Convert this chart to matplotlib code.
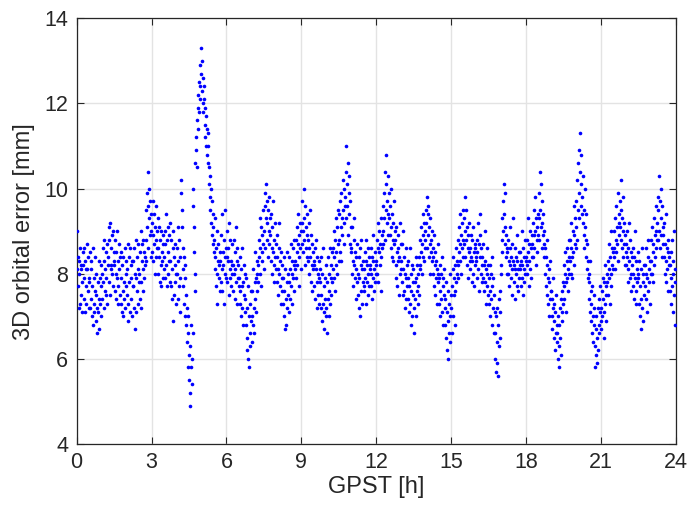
import matplotlib
matplotlib.use("Agg")
import matplotlib.pyplot as plt
import numpy as np

plt.rcParams['font.family'] = ['Liberation Sans', 'DejaVu Sans']

# 3D orbital error, in units of 0.1 mm,
# one string per quarter hour (values in time order inside each quarter)
bin_width_h = 0.25
error_bins = [
    "90 81 77 84 72 80 83 73 86 81 75 82 71 78 85",      # 0.00
    "82 74 79 86 71 83 77 81 73 87 81 76 84 72 79",
    "78 72 85 81 74 83 70 77 68 86 73 79 71 84 76",
    "75 69 80 72 66 78 71 83 74 67 79 73 82 70 77",
    "80 74 86 78 88 72 83 76 81 75 85 79 73 87 82",      # 1.00
    "84 91 78 88 75 92 82 86 81 89 80 77 90 83 85",
    "82 76 88 80 74 85 79 90 73 83 77 87 81 75 84",
    "79 73 85 71 82 76 70 84 78 74 86 72 80 77 83",
    "81 75 87 73 69 84 78 71 86 79 74 82 70 83 77",      # 2.00
    "83 77 72 86 80 67 88 79 71 84 76 81 73 87 78",
    "80 74 85 78 90 72 83 87 76 81 88 79 85 82 84",
    "88 95 83 99 91 104 96 86 100 93 89 97 84 94 90",
    "92 85 97 89 83 94 87 91 80 96 88 84 90 86 93",      # 3.00
    "86 80 91 84 78 88 82 90 77 85 83 89 79 87 81",
    "84 90 79 87 94 82 88 77 91 85 80 89 83 92 78",
    "83 77 88 81 74 86 69 90 75 84 82 78 87 73 80",
    "80 86 74 91 83 77 88 71 84 79 102 99 95 91 86",     # 4.00
    "81 77 84 73 79 70 82 75 68 72 64 70 58 66 61",
    "55 49 63 52 68 58 54 60 66 100 96 91 85 80 76",
    "106 112 109 116 105 119 114 122 118 125 121 129 124 133 127",
    "123 130 120 126 118 124 121 115 119 112 117 110 114 108 113",  # 5.00
    "106 110 101 105 98 103 95 100 92 97 89 94 87 91 85",
    "88 81 93 84 77 86 80 90 73 83 87 79 82 76 85",
    "83 78 89 81 94 76 85 82 73 88 80 84 95 79 86",
    "84 90 78 83 86 75 92 81 88 79 83 77 87 82 80",      # 6.00
    "82 76 88 80 74 85 81 91 78 83 73 86 79 82 77",
    "79 73 84 76 70 81 77 86 72 78 68 82 75 80 71",
    "74 68 79 65 72 62 77 60 70 58 66 73 63 69 76",
    "70 64 76 68 81 72 66 78 74 85 71 79 76 83 80",      # 7.00
    "82 78 88 84 93 80 86 91 77 85 89 83 95 87 81",
    "90 96 86 99 93 101 88 97 92 95 84 90 98 87 93",
    "89 83 94 86 80 91 85 97 82 88 78 92 84 87 81",
    "84 78 89 81 75 86 80 92 77 83 73 85 79 82 76",      # 8.00
    "79 73 84 70 76 67 81 74 68 78 72 85 75 80 71",
    "78 84 74 81 87 77 83 73 80 86 79 82 76 88 81",
    "83 88 79 91 85 82 94 87 77 89 84 92 86 81 90",
    "92 87 97 90 85 100 93 88 96 82 91 86 94 89 84",     # 9.00
    "88 83 92 80 86 95 84 78 89 82 87 76 85 81 83",
    "82 77 86 74 81 88 78 72 84 80 75 83 79 73 81",
    "78 72 84 75 69 80 73 86 71 77 67 79 74 82 70",
    "72 66 78 74 84 70 80 76 86 73 79 82 75 85 78",      # 10.00
    "81 86 79 90 84 76 88 82 93 85 80 91 87 95 83",
    "88 94 85 97 91 83 99 93 89 102 95 87 100 92 96",
    "98 104 93 110 101 96 106 89 99 94 103 87 97 91 85",
    "86 80 91 83 77 88 82 93 79 85 74 84 81 87 78",      # 11.00
    "80 75 84 72 79 86 70 82 76 88 73 81 78 83 77",
    "81 76 85 79 73 83 88 78 82 75 86 80 84 77 81",
    "82 77 86 80 74 84 89 79 83 76 81 85 78 82 80",
    "83 88 80 86 92 78 85 90 82 87 76 93 84 89 86",      # 12.00
    "90 96 87 99 93 104 88 101 95 108 92 97 103 89 94",
    "99 93 89 96 86 91 100 84 94 88 92 83 97 87 90",
    "88 82 91 79 85 77 89 83 86 75 84 80 92 81 87",
    "83 78 87 75 81 90 76 84 72 80 86 79 74 82 77",      # 13.00
    "79 74 83 71 77 86 73 80 68 76 82 70 78 75 81",
    "72 66 78 74 84 70 79 76 82 73 80 77 84 75 81",
    "82 88 85 91 80 87 94 84 89 83 92 86 90 88 95",
    "92 98 86 94 89 96 84 91 87 93 80 88 85 90 83",      # 14.00
    "86 80 84 77 89 82 75 85 79 83 73 81 87 78 80",
    "79 73 82 76 70 80 74 84 71 77 68 79 75 81 72",
    "74 68 78 65 71 62 76 69 60 73 66 80 70 64 75",
    "72 66 77 81 70 84 75 79 68 82 76 86 78 83 80",      # 15.00
    "82 88 79 91 85 83 94 87 80 89 86 92 84 95 88",
    "93 87 98 90 84 95 88 82 91 86 89 79 85 92 83",
    "86 81 89 84 78 88 83 91 80 85 77 87 82 86 84",
    "83 88 79 85 92 81 87 76 94 84 89 80 86 82 78",      # 16.00
    "84 79 87 76 82 90 78 83 73 81 86 77 80 75 82",
    "79 73 82 76 70 80 74 84 68 77 72 79 66 75 71",
    "66 60 70 57 64 72 59 68 56 63 74 65 71 76 80",
    "82 88 93 85 97 90 101 94 87 99 91 84 89 86 80",     # 17.00
    "85 80 88 83 77 91 82 86 79 84 75 87 81 93 83",
    "82 78 86 81 74 84 80 89 77 83 81 76 85 79 82",
    "81 85 77 83 90 79 82 75 86 81 84 78 88 80 83",
    "84 80 88 82 93 85 77 87 83 90 81 86 79 89 84",      # 18.00
    "87 92 84 95 89 86 98 90 82 93 88 91 85 94 89",
    "93 99 88 104 95 91 101 86 97 92 89 94 84 90 87",
    "86 80 84 77 82 75 88 79 73 81 70 78 83 74 76",
    "76 70 74 67 79 72 65 73 69 62 71 66 75 64 68",      # 19.00
    "66 60 70 58 68 63 72 65 61 74 69 76 71 78 73",
    "77 82 74 80 85 78 71 83 79 86 76 81 88 80 84",
    "83 88 80 86 92 84 79 90 85 96 82 89 87 93 86",
    "91 97 88 102 95 106 93 109 99 113 104 96 108 101 94",  # 20.00
    "98 92 103 89 95 86 100 91 84 88 94 81 87 79 83",
    "80 74 78 71 83 76 69 73 66 77 70 64 72 68 75",
    "63 58 67 61 70 59 65 72 62 68 74 66 71 77 69",
    "72 67 76 70 79 74 65 78 71 82 73 69 77 75 80",      # 21.00
    "78 83 75 81 87 79 73 84 80 90 77 82 86 81 85",
    "84 90 86 93 81 88 96 85 91 87 99 83 92 89 94",
    "97 91 102 88 95 86 93 90 84 98 87 92 82 89 85",
    "87 82 90 84 78 86 81 92 83 79 88 76 85 80 84",      # 22.00
    "82 77 86 80 74 84 79 90 76 83 73 81 78 85 80",
    "79 73 83 70 77 67 81 74 86 72 78 69 80 75 82",
    "77 82 74 80 86 71 79 84 76 88 78 81 73 83 80",
    "83 88 80 91 85 78 87 93 82 89 84 96 86 90 88",      # 23.00
    "92 98 88 95 103 90 97 86 100 93 89 96 84 91 87",
    "89 84 92 80 87 83 94 78 86 81 88 76 85 82 84",
    "82 76 85 79 73 88 77 83 71 80 90 75 81 68 78",
]

x_ticks = [0, 3, 6, 9, 12, 15, 18, 21, 24]
y_ticks = [4, 6, 8, 10, 12, 14]
x_label = "GPST [h]"
y_label = "3D orbital error [mm]"

times = []
errors = []
for i, s in enumerate(error_bins):
    vals = [int(v) / 10.0 for v in s.split()]
    n = len(vals)
    for j, v in enumerate(vals):
        times.append(i * bin_width_h + (j + 0.5) * bin_width_h / n)
        errors.append(v)

fig = plt.figure(figsize=(6.89, 5.11), dpi=100)
ax = fig.add_axes([0.1113, 0.1311, 0.8694, 0.8331])
ax.plot(times, errors, linestyle='none', marker='o', markersize=2.6,
        markeredgewidth=0, color='#0000ff', zorder=3)

ax.set_xlim(0, 24)
ax.set_ylim(4, 14)
ax.set_xticks(x_ticks)
ax.set_yticks(y_ticks)
ax.grid(True, color='#e3e3e3', linewidth=1.0, zorder=0)
ax.set_axisbelow(True)
ax.tick_params(direction='in', length=5, width=0.8, colors='#262626',
               labelsize=15.5, top=True, right=True, pad=6)
for sp in ax.spines.values():
    sp.set_color('#262626')
    sp.set_linewidth(0.9)
ax.set_xlabel(x_label, fontsize=17, color='#262626', labelpad=2)
ax.set_ylabel(y_label, fontsize=17, color='#262626', labelpad=7)

fig.savefig("out.png", dpi=100)
